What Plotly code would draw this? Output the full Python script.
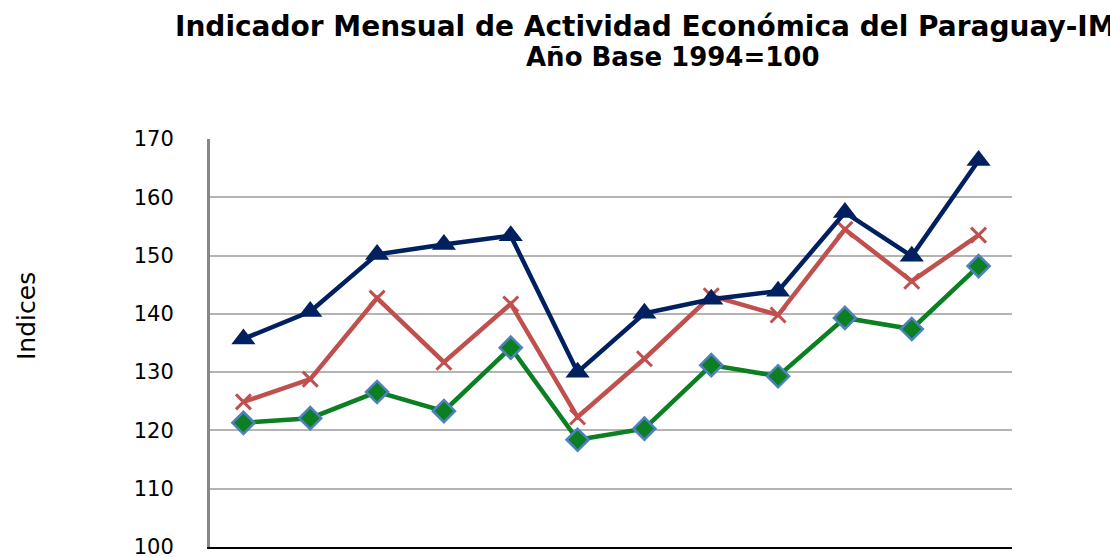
"""
    IMAEP - Indicador Mensual de Actividad Economica del Paraguay
"""

import plotly.graph_objs as go

meses = ["Ene", "Feb", "Mar", "Abr", "May", "Jun",
         "Jul", "Ago", "Sep", "Oct", "Nov", "Dic"]

serie_verde = [121.3, 122.1, 126.6, 123.3, 134.2, 118.4,
               120.3, 131.2, 129.3, 139.3, 137.4, 148.2]
serie_roja = [124.9, 128.8, 142.7, 131.7, 141.7, 122.3,
              132.3, 143.1, 139.8, 154.5, 145.6, 153.5]
serie_azul = [135.7, 140.4, 150.2, 151.9, 153.4, 130.0,
              140.1, 142.5, 143.9, 157.4, 149.9, 166.3]

y_ticks = [100, 110, 120, 130, 140, 150, 160, 170]

titulo_1 = "Indicador Mensual de Actividad Económica del Paraguay-IMAEP"
titulo_2 = "Año Base 1994=100"
eje_y = "Indices"


data = [
    go.Scatter(
        x=meses, y=serie_verde, name="Serie 1", mode="lines+markers",
        line={"color": "#0B7F22", "width": 4.5},
        marker={"symbol": "diamond", "size": 17, "color": "#0B7F22",
                "line": {"color": "#4F81BD", "width": 2.5}}
    ),
    go.Scatter(
        x=meses, y=serie_roja, name="Serie 2", mode="lines+markers",
        line={"color": "#C0504D", "width": 4.5},
        marker={"symbol": "x-thin", "size": 15, "color": "#C0504D",
                "line": {"color": "#C0504D", "width": 3}}
    ),
    go.Scatter(
        x=meses, y=serie_azul, name="Serie 3", mode="lines+markers",
        line={"color": "#002060", "width": 4.5},
        marker={"symbol": "triangle-up", "size": 21, "color": "#002060"}
    ),
]


def title_font(size):
    return {"family": "DejaVu Sans", "size": size, "color": "black", "weight": "bold"}


layout = go.Layout(
    width=1110, height=557,
    margin={"l": 210, "r": 98, "t": 139, "b": 10},
    paper_bgcolor="white", plot_bgcolor="white",
    showlegend=False,
    annotations=[
        {"text": titulo_1, "font": title_font(28), "showarrow": False,
         "xref": "paper", "yref": "paper",
         "x": (173 - 210) / 802, "xanchor": "left",
         "y": (547 - 26) / 408, "yanchor": "middle"},
        {"text": titulo_2, "font": title_font(26), "showarrow": False,
         "xref": "paper", "yref": "paper",
         "x": (673 - 210) / 802, "xanchor": "center",
         "y": (547 - 57) / 408, "yanchor": "middle"},
        {"text": eje_y, "textangle": -90, "showarrow": False,
         "font": {"family": "DejaVu Sans", "size": 25, "color": "black"},
         "xref": "paper", "yref": "paper",
         "x": (26 - 210) / 802, "xanchor": "center",
         "y": (547 - 316) / 408, "yanchor": "middle"},
    ],
    xaxis={
        "type": "category", "range": [-0.5, 11.5], "automargin": False,
        "showticklabels": False, "showgrid": False, "ticks": "",
        "showline": True, "linecolor": "black", "linewidth": 1.5,
        "zeroline": False,
    },
    yaxis={
        "range": [100, 170], "tickvals": y_ticks, "automargin": False,
        "tickfont": {"family": "DejaVu Sans", "size": 21, "color": "black"},
        "ticklabelstandoff": 29, "ticklabeloverflow": "allow",
        "showgrid": True, "gridcolor": "#B4B4B4", "gridwidth": 2,
        "showline": True, "linecolor": "#878787", "linewidth": 3,
        "zeroline": False,
    },
)

fig = go.Figure(data=data, layout=layout)
fig.write_html("out.html", config={"displayModeBar": False},
               post_script="document.body.style.margin='0px';")
